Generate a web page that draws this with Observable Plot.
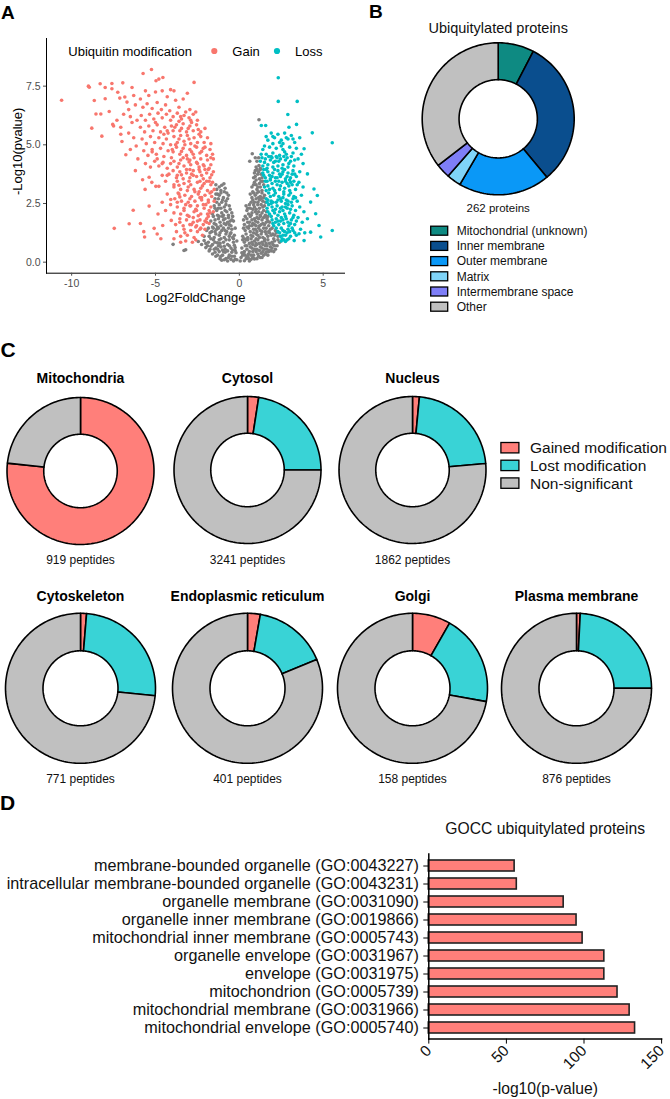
<!DOCTYPE html>
<html><head><meta charset="utf-8">
<script src="https://cdn.jsdelivr.net/npm/d3@7"></script>
<script src="https://cdn.jsdelivr.net/npm/@observablehq/plot@0.6"></script>
<style>
body{margin:0;background:#fff;}
#fig{position:relative;width:670px;height:1099px;overflow:hidden;background:#fff;}
</style></head><body><div id="fig"></div>
<script>
const FONT = '"Liberation Sans", Arial, Helvetica, sans-serif';

// ---------------- Panel A : volcano ----------------
const volcanoGroups = ["Gain", "Loss", "NS"];
const volcanoColors = ["#F8766D", "#00BFC4", "#7F7F7F"];
const volcanoXTicks = [-10, -5, 0, 5];
const volcanoYTicks = [0, 2.5, 5, 7.5];
const gainPts = [
[-10.6,6.9],[-9.0,7.5],[-8.95,7.45],[-8.3,7.6],[-8.0,7.44],[-7.6,7.61],[-7.6,7.39],[-6.95,7.64],[-8.65,6.89],[-8.0,6.96],[-8.55,6.31],[-8.26,6.31],[-8.8,5.71],[-8.2,5.37],[-7.76,6.42],[-7.55,5.87],[-7.5,5.8],[-7.25,7.24],[-7.13,6.99],[-6.83,7.04],[-6.7,6.82],[-7.07,5.75],[-7.07,5.45],[-7.0,5.14],[-6.77,4.58],[-6.33,2.21],[-7.46,1.44],[-6.57,1.64],[-6.4,7.44],[-6.3,7.1],[-6.6,6.5],[-6.2,6.7],[-6.5,6.2],[-6.9,6.3],[-6.4,5.95],[-6.1,6.05],[-6.6,5.5],[-6.3,5.3],[-6.15,4.95],[-6.5,4.8],[-6.05,4.4],[-6.2,3.9],[-7.3,6.05],
[-5.74,8.04],[-5.24,8.21],[-4.97,7.73],[-4.8,7.8],[-4.56,7.87],[-5.6,7.3],[-5.9,6.95],[-5.4,7.1],[-5.0,7.25],[-4.6,7.3],[-4.3,7.05],[-4.1,7.35],[-5.75,6.6],[-5.5,6.75],[-5.2,6.55],[-4.9,6.8],[-4.65,6.5],[-4.4,6.7],[-4.15,6.45],[-5.85,6.25],[-5.6,6.05],[-5.35,6.3],[-5.1,6.1],[-4.85,6.35],[-4.6,6.15],[-4.35,6.3],[-4.1,6.05],[-5.9,5.75],[-5.65,5.55],[-5.4,5.8],[-5.15,5.6],[-4.9,5.85],[-4.7,5.55],[-4.45,5.75],[-4.25,5.5],[-4.05,5.8],[-5.8,5.25],[-5.55,5.05],[-5.3,5.35],[-5.05,5.1],[-4.8,5.3],[-4.55,5.05],[-4.35,5.25],[-4.1,5.0],[-5.7,4.75],[-5.45,4.55],[-5.2,4.8],[-4.95,4.6],[-4.7,4.85],[-4.5,4.5],[-4.25,4.75],[-4.05,4.45],[-5.6,4.2],[-5.3,4.05],[-5.05,4.3],[-4.8,4.1],[-4.55,4.25],[-4.3,4.0],[-4.1,4.2],[-5.77,3.51],[-5.62,3.1],[-5.38,3.62],[-5.22,3.4],[-4.98,3.23],[-4.8,3.23],[-4.6,3.7],[-4.4,3.45],[-4.2,3.75],[-5.38,2.39],[-5.08,1.44],[-4.9,1.2],[-4.68,1.0],[-4.57,1.56],[-4.09,2.67],[-4.06,1.78],[-4.3,2.9],[-4.6,2.55],[-5.9,1.65],[-5.7,1.3],[-5.65,1.07],[-4.85,2.05],[-4.4,2.2],
[-3.9,7.3],[-3.6,6.6],[-3.35,6.95],[-3.1,7.2],[-2.95,6.5],[-2.7,7.66],[-3.8,6.9],[-2.6,6.4],
[-3.95,6.2],[-3.7,6.35],[-3.45,6.1],[-3.2,6.4],[-3.0,6.15],[-2.75,6.3],[-2.5,6.05],[-3.6,6.0],[-3.3,6.25],
[-3.95,5.6],[-3.75,5.85],[-3.55,5.6],[-3.35,5.9],[-3.15,5.55],[-2.95,5.8],[-2.75,5.6],[-2.55,5.85],[-2.3,5.55],[-2.05,5.7],[-3.85,5.75],[-3.45,5.7],[-2.85,5.95],
[-3.9,5.35],[-3.7,5.1],[-3.5,5.4],[-3.3,5.15],[-3.1,5.4],[-2.9,5.05],[-2.7,5.3],[-2.5,5.1],[-2.3,5.35],[-2.1,5.1],[-1.9,5.3],[-1.7,5.05],[-3.6,5.25],[-3.0,5.25],[-2.4,5.45],
[-3.95,4.7],[-3.75,4.9],[-3.55,4.6],[-3.35,4.85],[-3.15,4.55],[-2.95,4.8],[-2.75,4.6],[-2.55,4.9],[-2.35,4.65],[-2.15,4.85],[-1.95,4.55],[-1.75,4.8],[-1.6,4.6],[-3.45,4.72],[-2.85,4.7],[-2.25,4.72],
[-3.9,4.3],[-3.7,4.05],[-3.5,4.35],[-3.3,4.1],[-3.1,4.4],[-2.9,4.15],[-2.7,4.45],[-2.5,4.2],[-2.3,4.4],[-2.1,4.1],[-1.9,4.35],[-1.7,4.15],[-1.55,4.4],[-3.6,4.2],[-3.0,4.27],[-2.4,4.05],[-1.8,4.0],
[-3.95,3.9],[-3.75,3.6],[-3.55,3.85],[-3.35,3.55],[-3.15,3.8],[-2.95,3.6],[-2.75,3.9],[-2.55,3.65],[-2.35,3.85],[-2.15,3.55],[-1.95,3.8],[-1.75,3.6],[-1.55,3.85],[-3.45,3.72],[-2.85,3.75],[-2.25,3.7],[-1.65,3.72],[-2.05,3.95],
[-3.9,3.2],[-3.7,3.45],[-3.5,3.1],[-3.3,3.35],[-3.1,3.05],[-2.9,3.3],[-2.7,3.1],[-2.5,3.4],[-2.3,3.15],[-2.1,3.35],[-1.9,3.05],[-1.7,3.3],[-1.5,3.1],[-3.6,3.28],[-3.0,3.45],[-2.4,3.0],[-1.8,3.45],[-2.2,3.25],
[-3.85,2.7],[-3.65,2.95],[-3.45,2.6],[-3.25,2.85],[-3.05,2.55],[-2.85,2.8],[-2.65,2.6],[-2.45,2.9],[-2.25,2.65],[-2.05,2.85],[-1.85,2.55],[-1.65,2.8],[-1.5,2.6],[-3.55,2.78],[-2.95,2.7],[-2.35,2.75],[-1.75,2.95],
[-3.9,2.1],[-3.7,2.35],[-3.5,2.05],[-3.3,2.3],[-3.1,2.0],[-2.9,2.4],[-2.7,2.15],[-2.5,2.4],[-2.3,2.05],[-2.1,2.3],[-1.9,2.05],[-1.7,2.35],[-1.55,2.15],[-3.2,2.45],[-2.6,2.25],[-2.0,2.45],[-1.8,2.2],
[-3.8,1.6],[-3.55,1.85],[-3.35,1.55],[-3.15,1.8],[-2.95,1.6],[-2.75,1.9],[-2.55,1.55],[-2.35,1.8],[-2.15,1.6],[-1.95,1.85],[-1.8,1.65],[-3.0,1.95],[-2.45,1.98],[-2.05,1.75],
[-3.75,1.3],[-3.5,1.1],[-3.3,1.4],[-3.1,1.15],[-2.9,1.35],[-2.7,1.05],[-2.5,1.3],[-2.3,1.45],[-2.2,1.15],[-3.9,1.0],[-2.6,1.5],[-2.05,1.4],
[-3.2,0.9],[-2.8,0.85],[-2.6,0.95],[-3.5,0.85],
[-3.35,4.45],[-2.95,4.35],[-2.55,4.25],[-2.15,4.15],[-1.85,3.95],[-3.15,3.95],[-2.75,3.7],[-2.35,3.45],[-1.95,3.45],[-1.65,3.0],[-3.05,3.2],[-2.65,3.0],[-2.25,2.75],[-1.85,2.65],[-2.95,2.4],[-2.55,2.2],[-2.15,2.45],[-1.75,2.1],[-2.75,1.7],[-2.35,1.4],[-1.95,1.7],[-3.3,2.2],[-3.6,2.9],[-3.9,3.3],[-4.1,2.45],[-3.55,1.7],[-4.3,3.7],[-4.6,4.2],[-4.9,4.4],[-5.2,4.7],[-3.8,5.0],[-4.3,5.6],[-3.25,5.0],[-2.65,4.95],[-2.05,4.9],[-3.05,5.7],[-2.45,5.65],[-3.5,6.2],[-2.9,6.05],[-1.7,4.45],[-1.6,3.4],[-2.4,3.95],[-2.95,3.95],[-3.7,3.7],[-4.0,4.8],[-4.5,5.45],[-5.0,5.95],[-2.5,1.75],[-3.25,1.25],[-2.85,1.6],[-1.85,1.95],[-3.7,2.55]
];
const nsPts = [
[-0.92,3.34],[-1.05,3.28],[-1.2,3.2],[-1.35,3.1],[-1.1,3.05],[-0.85,3.15],[-1.4,3.3],
[-1.4,2.9],[-1.25,2.7],[-1.1,2.95],[-0.95,2.75],[-0.8,2.6],[-0.65,2.85],[-1.35,2.55],[-1.05,2.55],[-1.2,2.85],[-0.75,2.95],
[-1.5,2.4],[-1.35,2.2],[-1.2,2.45],[-1.05,2.1],[-0.9,2.35],[-0.75,2.15],[-0.6,2.4],[-0.45,2.1],[-1.6,2.05],[-1.3,2.0],[-0.95,2.0],[-0.65,2.0],[-1.45,2.3],[-1.1,2.3],[-0.8,2.45],
[-1.7,1.75],[-1.55,1.95],[-1.4,1.6],[-1.25,1.85],[-1.1,1.55],[-0.95,1.8],[-0.8,1.6],[-0.65,1.9],[-0.5,1.55],[-0.35,1.75],[-1.6,1.5],[-1.3,1.5],[-1.0,1.95],[-0.7,1.7],[-0.4,1.95],[-1.45,1.8],[-1.15,1.7],[-0.85,1.85],[-0.55,1.75],
[-2.1,1.1],[-1.95,1.35],[-1.8,1.1],[-1.65,1.3],[-1.5,1.05],[-1.35,1.4],[-1.2,1.15],[-1.05,1.35],[-0.9,1.05],[-0.75,1.3],[-0.6,1.1],[-0.45,1.4],[-0.3,1.15],[-0.25,1.45],[-1.85,1.45],[-1.55,1.45],[-1.25,1.45],[-0.95,1.45],[-0.65,1.45],[-1.7,1.0],[-1.4,1.2],[-1.1,1.0],[-0.8,1.2],[-0.5,1.25],[-0.35,1.0],
[-2.45,0.88],[-2.25,0.75],[-2.1,0.92],[-2.0,0.62],[-1.85,0.85],[-1.75,0.55],[-1.6,0.75],[-1.55,0.95],[-1.4,0.6],[-1.3,0.82],[-1.2,0.95],[-1.1,0.65],[-0.95,0.85],[-0.85,0.55],[-0.7,0.75],[-0.6,0.95],[-0.5,0.6],[-0.35,0.85],[-0.25,0.62],[-0.15,0.9],[-1.0,0.52],[-0.4,0.52],[-1.9,0.7],[-1.25,0.7],[-0.8,0.95],
[-1.8,0.48],[-1.6,0.35],[-1.45,0.42],[-1.4,0.25],[-1.2,0.45],[-1.15,0.15],[-1.0,0.3],[-0.85,0.42],[-0.8,0.15],[-0.6,0.3],[-0.45,0.42],[-0.5,0.12],[-0.3,0.25],[-0.15,0.1],[-0.7,0.05],[-0.35,0.05],[-1.3,0.3],[-1.05,0.08],[-0.95,0.45],[-0.2,0.4],
[-0.9,3.0],[-1.3,2.9],[-1.0,2.65],[-0.7,2.7],[-1.45,2.7],[-1.25,2.3],[-0.85,2.2],[-0.55,2.25],[-1.5,1.65],[-1.2,1.95],[-0.9,1.65],[-0.6,1.6],[-0.45,1.8],[-1.75,1.25],[-1.45,1.3],[-1.15,1.25],[-0.85,1.35],[-0.55,1.2],[-0.4,1.05],[-2.0,0.8],[-1.7,0.68],[-1.45,0.85],[-1.15,0.8],[-0.9,0.68],[-0.6,0.7],[-0.3,0.72],[-1.5,0.55],[-1.3,0.55],[-0.7,0.48],[-0.25,0.5],[-1.1,0.25],[-0.9,0.1],[-0.65,0.2],[-0.45,0.25],[-0.25,0.12],
[-3.2,0.53],[-3.95,0.76],[-3.3,0.5],
[1.17,6.07],[0.77,4.62],[0.62,4.3],
[1.17,4.12],[1.05,4.3],[1.25,4.0],[1.0,4.05],[1.15,4.45],[0.95,4.45],
[0.95,3.9],[1.1,3.75],[1.25,3.95],[1.35,3.6],[0.85,3.6],[1.0,3.5],[1.2,3.55],[0.9,3.8],
[0.75,3.2],[0.9,3.4],[1.05,3.1],[1.2,3.35],[1.35,3.05],[1.45,3.3],[0.8,3.0],[1.0,3.3],[1.3,3.45],[1.15,3.0],
[0.65,2.9],[0.8,2.65],[0.95,2.85],[1.1,2.55],[1.25,2.8],[1.4,2.6],[1.5,2.85],[0.7,2.55],[1.0,2.7],[1.35,2.95],[1.55,2.55],[0.85,2.95],[1.2,2.65],
[0.45,2.2],[0.6,2.45],[0.75,2.1],[0.9,2.35],[1.05,2.05],[1.2,2.3],[1.35,2.1],[1.5,2.4],[1.62,2.15],[0.55,2.05],[0.8,2.25],[1.1,2.45],[1.4,2.35],[0.65,2.3],[0.95,2.15],[1.25,2.0],[1.55,2.0],[0.4,2.4],
[0.3,1.6],[0.45,1.85],[0.6,1.55],[0.75,1.8],[0.9,1.6],[1.05,1.9],[1.2,1.55],[1.35,1.8],[1.5,1.6],[1.65,1.85],[1.8,1.7],[0.35,1.95],[0.65,1.95],[0.95,1.75],[1.25,1.95],[1.55,1.95],[1.75,1.55],[0.5,1.7],[0.8,1.65],[1.1,1.7],[1.4,1.65],[1.7,1.75],[0.25,1.8],
[0.2,1.1],[0.35,1.35],[0.5,1.05],[0.65,1.3],[0.8,1.1],[0.95,1.4],[1.1,1.15],[1.25,1.35],[1.4,1.05],[1.55,1.3],[1.7,1.1],[1.85,1.4],[2.0,1.2],[2.15,1.35],[2.3,1.1],[0.25,1.45],[0.55,1.45],[0.85,1.25],[1.15,1.45],[1.45,1.45],[1.75,1.3],[2.05,1.0],[0.4,1.2],[0.7,1.0],[1.0,1.2],[1.3,1.2],[1.6,1.2],[1.9,1.15],[2.2,1.25],[1.0,1.0],[1.5,1.0],[0.3,1.0],
[0.15,0.6],[0.3,0.85],[0.45,0.55],[0.6,0.8],[0.75,0.6],[0.9,0.9],[1.05,0.55],[1.2,0.8],[1.35,0.6],[1.5,0.9],[1.65,0.55],[1.8,0.8],[1.95,0.6],[2.1,0.9],[2.25,0.7],[2.4,0.85],[0.2,0.95],[0.5,0.95],[0.8,0.75],[1.1,0.95],[1.4,0.75],[1.7,0.95],[2.0,0.75],[2.15,0.55],[0.35,0.7],[0.65,0.65],[0.95,0.7],[1.25,0.65],[1.55,0.7],[1.85,0.65],[1.0,0.8],[1.6,0.8],
[0.1,0.2],[0.25,0.4],[0.4,0.15],[0.55,0.35],[0.7,0.12],[0.85,0.3],[1.0,0.45],[1.15,0.25],[1.3,0.38],[1.45,0.3],[1.6,0.42],[1.75,0.45],[1.9,0.48],[0.05,0.05],[0.3,0.06],[0.6,0.05],[0.9,0.14],[0.5,0.25],[0.8,0.45],[1.1,0.35],[1.4,0.45],[1.25,0.2],[0.2,0.3],[0.7,0.3],
[0.3,0.45],[0.45,0.7],[0.6,0.45],[0.75,0.85],[0.9,0.55],[1.05,0.75],[1.2,0.5],[1.35,0.85],[1.5,0.55],[1.65,0.7],[1.8,0.5],[1.95,0.85],[2.1,0.7],[2.3,0.95],[0.4,0.95],[0.7,1.15],[0.85,1.4],[1.05,1.3],[1.2,1.05],[1.35,1.3],[1.6,1.45],[1.8,1.25],[1.95,1.45],[2.1,1.15],[0.45,1.5],[0.6,1.7],[0.75,1.55],[0.9,1.85],[1.0,1.55],[1.15,1.85],[1.3,1.6],[1.45,1.9],[1.6,1.7],[1.7,1.95],[0.5,2.3],[0.7,2.0],[0.85,2.45],[1.0,2.25],[1.15,2.15],[1.3,2.45],[1.45,2.2],[0.75,2.75],[0.9,2.55],[1.05,2.95],[1.15,2.75],[1.3,2.7],[1.45,2.75],[0.85,3.3],[1.1,3.2],[1.25,3.2],[1.4,3.45],[0.95,3.65],[1.05,3.95],[1.3,3.75],[1.15,3.85],[0.55,0.15],[0.8,0.2],[1.05,0.15],[0.35,0.3],[0.15,0.4],[1.35,0.2],[1.55,0.35],[1.7,0.3],[2.05,0.45]
];
const lossPts = [
[2.32,7.86],[2.32,6.85],[3.45,6.85],[2.89,6.29],[1.31,5.82],[1.57,5.82],[3.41,5.87],[2.96,5.75],[4.35,5.51],[5.54,5.09],[3.86,4.83],[4.06,3.76],[4.45,3.12],[4.65,2.84],[4.25,2.56],[4.55,2.06],[4.06,1.85],[4.75,1.56],[5.54,1.35],[4.25,1.28],[4.85,1.07],[3.86,0.92],[3.56,1.21],[3.27,0.92],[2.85,0.95],
[1.9,5.5],[2.1,5.3],[2.3,5.45],[2.5,5.2],[2.7,5.5],[2.9,5.25],[3.1,5.4],[3.3,5.1],[1.7,5.2],[2.6,5.05],[3.6,5.3],[2.0,5.05],
[1.4,4.8],[1.6,4.6],[1.8,4.9],[2.0,4.65],[2.2,4.85],[2.4,4.55],[2.6,4.8],[2.8,4.6],[3.0,4.9],[3.2,4.65],[3.4,4.85],[3.7,4.6],[1.5,4.95],[1.9,4.5],[2.5,4.95],[3.1,4.5],
[1.25,4.3],[1.4,4.1],[1.55,4.4],[1.7,4.15],[1.85,4.35],[2.0,4.05],[2.15,4.3],[2.3,4.1],[2.45,4.4],[2.6,4.15],[2.75,4.35],[2.9,4.05],[3.05,4.3],[3.25,4.1],[3.5,4.4],[1.35,4.45],[1.65,4.0],[1.95,4.45],[2.25,4.45],[2.55,4.0],[2.85,4.45],[3.8,4.2],
[1.4,3.8],[1.55,3.6],[1.7,3.85],[1.85,3.55],[2.0,3.8],[2.15,3.6],[2.3,3.9],[2.45,3.65],[2.6,3.85],[2.75,3.55],[2.9,3.8],[3.05,3.6],[3.2,3.9],[3.4,3.65],[3.6,3.85],[1.45,3.95],[1.8,3.7],[2.1,3.95],[2.4,3.75],[2.7,3.95],[3.0,3.5],[3.3,3.75],
[1.5,3.2],[1.65,3.45],[1.8,3.1],[1.95,3.35],[2.1,3.05],[2.25,3.3],[2.4,3.1],[2.55,3.4],[2.7,3.15],[2.85,3.35],[3.0,3.05],[3.15,3.3],[3.35,3.1],[3.55,3.4],[3.8,3.2],[1.55,3.45],[1.7,3.25],[2.0,3.15],[2.35,3.45],[2.65,3.0],[2.95,3.25],[3.25,3.45],
[1.6,2.7],[1.75,2.95],[1.9,2.6],[2.05,2.85],[2.2,2.55],[2.35,2.8],[2.5,2.6],[2.65,2.9],[2.8,2.65],[2.95,2.85],[3.1,2.55],[3.25,2.8],[3.45,2.6],[3.7,2.85],[1.65,2.55],[1.85,2.8],[2.15,2.95],[2.45,2.7],[2.75,2.5],[3.05,2.95],[3.35,2.75],
[1.65,2.3],[1.8,2.05],[1.95,2.35],[2.1,2.1],[2.25,2.4],[2.4,2.15],[2.55,2.35],[2.7,2.05],[2.85,2.3],[3.0,2.1],[3.15,2.4],[3.35,2.2],[3.6,2.35],[1.75,2.45],[2.0,2.2],[2.3,2.0],[2.6,2.2],[2.9,2.45],[3.25,2.0],[3.85,2.15],
[1.95,1.8],[2.05,1.55],[2.2,1.85],[2.35,1.6],[2.5,1.9],[2.65,1.65],[2.8,1.85],[2.95,1.55],[3.1,1.8],[3.3,1.6],[3.5,1.9],[3.75,1.7],[1.9,1.95],[2.15,1.7],[2.45,1.75],[2.75,1.95],[3.05,1.65],[3.4,1.75],
[2.3,1.3],[2.45,1.1],[2.6,1.35],[2.75,1.15],[2.9,1.4],[3.05,1.1],[3.2,1.35],[3.4,1.15],[3.65,1.4],[2.2,1.45],[2.5,1.45],[2.85,1.25],[3.15,1.45],[2.55,1.0],[2.95,1.0],[3.9,1.25],
[2.5,0.9],[2.65,0.95],[2.75,0.88],
[1.5,4.25],[1.75,4.5],[2.05,4.25],[2.35,4.3],[2.65,4.5],[2.95,4.2],[3.3,4.35],[1.6,3.95],[1.95,3.65],[2.25,3.6],[2.55,3.75],[2.85,3.65],[3.15,3.75],[1.6,3.05],[1.85,3.5],[2.15,3.45],[2.45,3.25],[2.75,3.45],[3.05,3.4],[3.45,3.3],[1.7,2.65],[2.0,2.55],[2.3,2.65],[2.6,2.75],[2.9,2.6],[3.2,2.7],[1.7,2.15],[1.9,2.5],[2.15,2.25],[2.45,2.3],[2.75,2.35],[3.05,2.25],[2.0,1.65],[2.3,1.75],[2.6,1.8],[2.9,1.7],[3.2,1.9],[2.4,1.25],[2.7,1.3],[3.0,1.3],[3.3,1.25],[2.6,1.15],[2.0,5.35],[2.4,5.1],[2.8,5.3],[3.2,5.25],[1.6,5.35],[2.2,4.5],[2.7,4.7],[1.3,4.6],[1.45,3.7]
];

// ---------------- Panel B : ubiquitylated proteins ----------------
const bCategories = ["Mitochondrial (unknown)", "Inner membrane", "Outer membrane", "Matrix", "Intermembrane space", "Other"];
const bCounts = [20, 82, 51, 8, 8, 93];
const bColors = ["#0E8A82", "#0A4E8E", "#0A98F7", "#7FD4F8", "#7E7EF7", "#C0C0C0"];
const bTitle = "Ubiquitylated proteins";
const bTotal = "262 proteins";

// ---------------- Panel C : compartments ----------------
const cStatus = ["Gained modification", "Lost modification", "Non-significant"];
const cColors = ["#FF7F7A", "#39D3D6", "#C0C0C0"];
const cCompartments = ["Mitochondria", "Cytosol", "Nucleus", "Cytoskeleton", "Endoplasmic reticulum", "Golgi", "Plasma membrane"];
const cGained = [705, 79, 28, 10, 11, 13, 7];
const cLost = [0, 731, 411, 195, 64, 31, 212];
const cNonSig = [214, 2431, 1423, 566, 326, 114, 657];

// ---------------- Panel D : GOCC ----------------
const dTerms = [
 "membrane-bounded organelle (GO:0043227)",
 "intracellular membrane-bounded organelle (GO:0043231)",
 "organelle membrane (GO:0031090)",
 "organelle inner membrane (GO:0019866)",
 "mitochondrial inner membrane (GO:0005743)",
 "organelle envelope (GO:0031967)",
 "envelope (GO:0031975)",
 "mitochondrion (GO:0005739)",
 "mitochondrial membrane (GO:0031966)",
 "mitochondrial envelope (GO:0005740)"
];
const dValues = [55.3, 56.7, 86.9, 95.2, 99.1, 113.1, 113.1, 121.6, 129.4, 132.9];
const dTicks = [0, 50, 100, 150];
const dColor = "#FF7F7A";

// ================= drawing =================
const fig = document.getElementById("fig");
function place(el, left, top) {
  el.style.position = "absolute";
  el.style.left = left + "px";
  el.style.top = top + "px";
  fig.appendChild(el);
}
const baseStyle = {fontFamily: FONT, background: "transparent", overflow: "visible"};

// ring polygons (angles clockwise from 12 o'clock) built from counts
function ringSlices(counts, keys, rIn) {
  const total = d3.sum(counts);
  const pts = [];
  let acc = 0;
  counts.forEach((c, i) => {
    if (c <= 0) return;
    const a0 = acc / total * 2 * Math.PI, a1 = (acc + c) / total * 2 * Math.PI;
    acc += c;
    const n = Math.max(2, Math.ceil((a1 - a0) / (Math.PI / 120)));
    for (let k = 0; k <= n; k++) { const a = a0 + (a1 - a0) * k / n; pts.push({key: keys[i], x: Math.sin(a), y: Math.cos(a)}); }
    for (let k = n; k >= 0; k--) { const a = a0 + (a1 - a0) * k / n; pts.push({key: keys[i], x: rIn * Math.sin(a), y: rIn * Math.cos(a)}); }
  });
  return pts;
}

function donut({keys, counts, colors, cx, cy, r, rIn, left, top, width, height, marks = [], sw = 1.5}) {
  const plot = Plot.plot({
    width, height,
    marginLeft: cx - r - left, marginRight: left + width - (cx + r),
    marginTop: cy - r - top, marginBottom: top + height - (cy + r),
    x: {domain: [-1, 1], axis: null},
    y: {domain: [-1, 1], axis: null},
    color: {domain: keys, range: colors},
    style: baseStyle,
    marks: [
      Plot.line(ringSlices(counts, keys, rIn), {x: "x", y: "y", z: "key", fill: "key", stroke: "#000", strokeWidth: sw, curve: "linear-closed", strokeLinejoin: "round"}),
      ...marks
    ]
  });
  place(plot, left, top);
}

// ---- A
const aData = [
  ...nsPts.map(([x, y]) => ({x, y, g: "NS"})),
  ...gainPts.map(([x, y]) => ({x, y, g: "Gain"})),
  ...lossPts.map(([x, y]) => ({x, y, g: "Loss"}))
];
const plotA = Plot.plot({
  width: 350, height: 310,
  marginLeft: 46, marginRight: 6, marginTop: 38, marginBottom: 37.3,
  x: {domain: [-11.5, 6.27]},
  y: {domain: [-0.47, 9.53]},
  color: {domain: volcanoGroups, range: volcanoColors},
  style: {...baseStyle, fontSize: "10px"},
  marks: [
    Plot.dot(aData, {x: "x", y: "y", fill: "g", r: 1.8}),
    Plot.frame({anchor: "left", stroke: "#000", strokeWidth: 1}),
    Plot.frame({anchor: "bottom", stroke: "#000", strokeWidth: 1}),
    Plot.axisX({ticks: volcanoXTicks, tickFormat: d => String(d), tickSize: 3, tickPadding: 3, fontSize: 10.5, color: "#4D4D4D", label: null}),
    Plot.axisY({ticks: volcanoYTicks, tickFormat: d3.format(".1f"), tickSize: 3, tickPadding: 3, fontSize: 10.5, color: "#4D4D4D", label: null}),
    Plot.text(["Log2FoldChange"], {text: d => d, frameAnchor: "bottom", lineAnchor: "middle", dy: 25, fontSize: 13, fill: "#000"}),
    Plot.text(["-Log10(pvalue)"], {text: d => d, frameAnchor: "left", textAnchor: "middle", lineAnchor: "middle", rotate: -90, dx: -29, dy: -4.5, fontSize: 13, fill: "#000"})
  ]
});
place(plotA, 0, 0);

// ---- B
donut({
  keys: bCategories, counts: bCounts, colors: bColors,
  cx: 497.7, cy: 118.3, r: 76, rIn: 0.515,
  left: 417, top: 10, width: 162, height: 210, sw: 1.6,
  marks: [
    Plot.text([bTitle], {text: d => d, frameAnchor: "top", lineAnchor: "bottom", dy: -10.3, fontSize: 14.5, fill: "#111"}),
    Plot.text([bTotal], {text: d => d, frameAnchor: "bottom", lineAnchor: "bottom", dy: 16.7, fontSize: 11.5, fill: "#111"})
  ]
});

// ---- C
const cPos = [
  {cx: 79.5, cy: 470.8, tb: 383.3, lb: 564},
  {cx: 247.2, cy: 469.8, tb: 383.3, lb: 564},
  {cx: 412, cy: 469.8, tb: 383.3, lb: 564},
  {cx: 79.5, cy: 687.5, tb: 600.7, lb: 782.5},
  {cx: 247.2, cy: 687.5, tb: 600.7, lb: 782.5},
  {cx: 412, cy: 687.5, tb: 600.7, lb: 782.5},
  {cx: 576.3, cy: 687.5, tb: 600.7, lb: 782.5}
];
cCompartments.forEach((name, i) => {
  const p = cPos[i], r = i < 3 ? 73.5 : 75;
  const top = p.tb - 18, height = p.lb + 6 - top;
  const total = cGained[i] + cLost[i] + cNonSig[i];
  donut({
    keys: cStatus, counts: [cGained[i], cLost[i], cNonSig[i]], colors: cColors,
    cx: p.cx, cy: p.cy, r, rIn: 0.5,
    left: p.cx - 82, top, width: 164, height, sw: 1.6,
    marks: [
      Plot.text([name], {text: d => d, frameAnchor: "top", lineAnchor: "bottom", dy: p.tb - (p.cy - r), fontSize: 14, fontWeight: "bold", fill: "#000"}),
      Plot.text([`${total} peptides`], {text: d => d, frameAnchor: "bottom", lineAnchor: "bottom", dy: p.lb - (p.cy + r), fontSize: 12, fill: "#111"})
    ]
  });
});

// ---- D
const dData = dTerms.map((t, i) => ({term: t, v: dValues[i]}));
const plotD = Plot.plot({
  width: 670, height: 279,
  marginLeft: 428.3, marginRight: 8.9, marginTop: 33.4, marginBottom: 60.4,
  x: {domain: [0, 150]},
  y: {domain: dTerms, paddingInner: 0.4, paddingOuter: 0.2},
  style: {...baseStyle, fontSize: "15px"},
  marks: [
    Plot.barX(dData, {x: "v", y: "term", fill: dColor, stroke: "#222", strokeWidth: 1.6}),
    Plot.frame({anchor: "left", stroke: "#000", strokeWidth: 1.5}),
    Plot.frame({anchor: "bottom", stroke: "#000", strokeWidth: 1.5}),
    Plot.axisY({tickSize: 5, tickPadding: 5, fontSize: 16.2, label: null, fill: "#111"}),
    Plot.axisX({ticks: dTicks, tickSize: 5, tickPadding: 4, tickRotate: -45, fontSize: 15.5, label: null, fill: "#111"}),
    Plot.text(["GOCC ubiquitylated proteins"], {text: d => d, frameAnchor: "top", lineAnchor: "bottom", dy: -20.4, fontSize: 15.7, fill: "#111"}),
    Plot.text(["-log10(p-value)"], {text: d => d, frameAnchor: "bottom", lineAnchor: "middle", dy: 49.4, fontSize: 15.7, fill: "#111"})
  ]
});
place(plotD, 0, 820);

// ---- overlay: panel letters and legends
const NS = "http://www.w3.org/2000/svg";
const ov = document.createElementNS(NS, "svg");
ov.setAttribute("width", 670); ov.setAttribute("height", 1099);
ov.style.cssText = `position:absolute;left:0;top:0;pointer-events:none;font-family:${FONT};`;
function t(x, y, s, size, opts = {}) {
  const e = document.createElementNS(NS, "text");
  e.setAttribute("x", x); e.setAttribute("y", y);
  e.setAttribute("font-size", size);
  e.setAttribute("fill", opts.fill || "#000");
  if (opts.weight) e.setAttribute("font-weight", opts.weight);
  if (opts.anchor) e.setAttribute("text-anchor", opts.anchor);
  e.textContent = s; ov.appendChild(e);
}
function rect(x, y, w, h, fill) {
  const e = document.createElementNS(NS, "rect");
  e.setAttribute("x", x); e.setAttribute("y", y); e.setAttribute("width", w); e.setAttribute("height", h);
  e.setAttribute("fill", fill); e.setAttribute("stroke", "#000"); e.setAttribute("stroke-width", 1.3);
  ov.appendChild(e);
}
function circ(x, y, r, fill) {
  const e = document.createElementNS(NS, "circle");
  e.setAttribute("cx", x); e.setAttribute("cy", y); e.setAttribute("r", r); e.setAttribute("fill", fill);
  ov.appendChild(e);
}
t(1, 18.5, "A", 19, {weight: "bold"});
t(369, 17.5, "B", 19, {weight: "bold"});
t(0.5, 357, "C", 21, {weight: "bold"});
t(0, 810, "D", 21, {weight: "bold"});
// A legend
t(68.3, 55.5, "Ubiquitin modification", 13);
circ(214.3, 51, 3.1, volcanoColors[0]); t(232.3, 55.5, volcanoGroups[0], 13);
circ(277, 51, 3.1, volcanoColors[1]); t(295, 55.5, volcanoGroups[1], 13);
// B legend
bCategories.forEach((c, i) => {
  const y = 230.7 + i * 15.2;
  rect(430.7, y - 4.5, 17, 9, bColors[i]);
  t(456.7, y + 4.3, c, 12, {fill: "#111"});
});
// C legend
cStatus.forEach((c, i) => {
  const y = 447.7 + i * 17.7;
  rect(500.9, y - 5.2, 18, 10.4, cColors[i]);
  t(530, y + 5.5, c, 15.5, {fill: "#111"});
});
fig.appendChild(ov);
</script></body></html>
